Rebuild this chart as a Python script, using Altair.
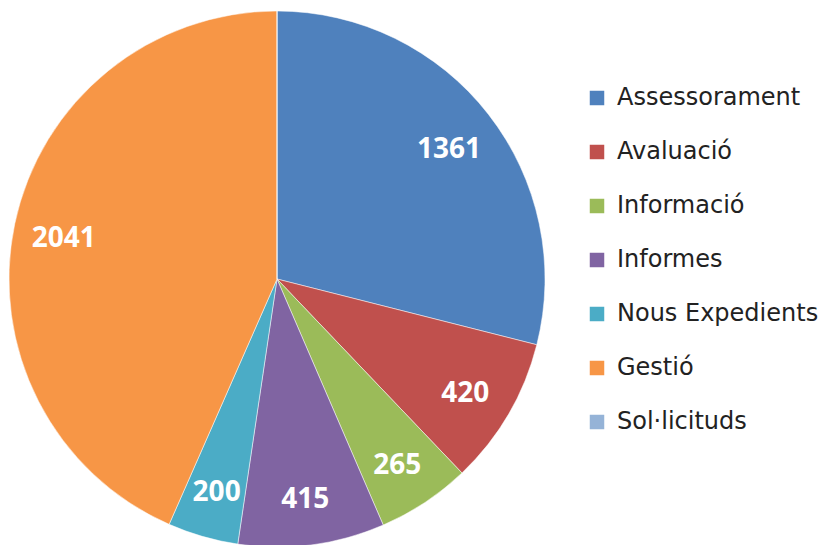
import altair as alt
import pandas as pd

categories = ["Assessorament", "Avaluació", "Informació", "Informes", "Nous Expedients", "Gestió", "Sol·licituds"]
values = [1361, 420, 265, 415, 200, 2041, 0]
colors = ["#4F81BD", "#C0504D", "#9BBB59", "#8064A2", "#4BACC6", "#F79646", "#95B3D7"]

df = pd.DataFrame({"cat": categories, "value": values, "idx": list(range(len(categories)))})

cx, cy, R = 269, 271, 268

base = alt.Chart(df).encode(
    theta=alt.Theta("value:Q", stack=True),
    order=alt.Order("idx:Q"),
    x=alt.value(cx),
    y=alt.value(cy),
)

pie = base.mark_arc(outerRadius=R, stroke="white", strokeWidth=0.5).encode(
    color=alt.Color(
        "cat:N",
        scale=alt.Scale(domain=categories, range=colors),
        sort=categories,
        legend=alt.Legend(
            title=None,
            orient="none",
            legendX=577,
            legendY=78,
            symbolType="square",
            symbolSize=210,
            symbolStrokeWidth=0,
            labelFont="DejaVu Sans",
            labelFontSize=24,
            labelColor="#222222",
            rowPadding=30,
            labelOffset=8,
            labelLimit=400,
        ),
    )
)

labels = base.transform_filter("datum.value > 0").mark_text(
    radius=218, font="Open Sans", fontSize=28, fontWeight="bold", color="white",
    align="center", baseline="middle", dy=5,
).encode(text=alt.Text("value:Q", format="d"))

chart = (pie + labels).properties(width=817, height=529, padding=0).configure_view(stroke=None)

chart.save("out.html", embed_options={"renderer": "svg", "actions": False})
